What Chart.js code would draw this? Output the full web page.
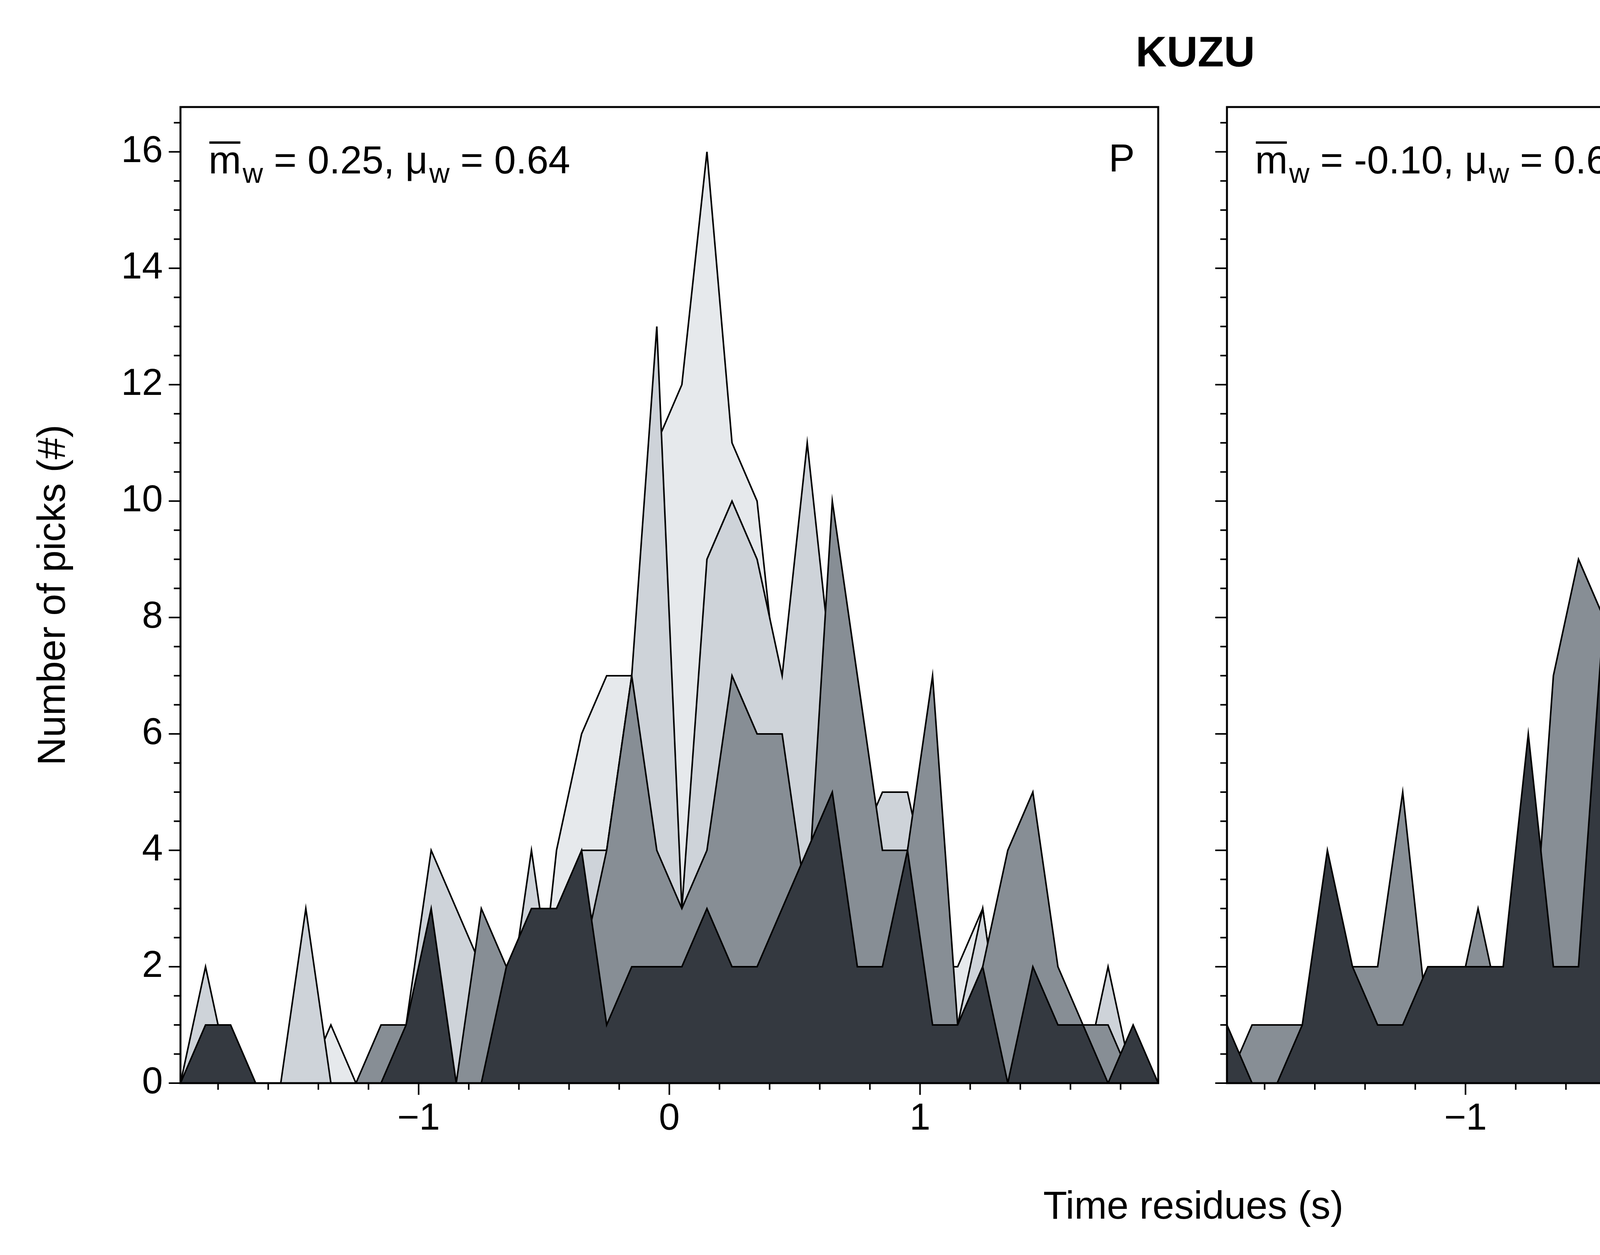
<!DOCTYPE html>
<html>
<head>
<meta charset="utf-8">
<script src="https://cdn.jsdelivr.net/npm/chart.js@4.4.1/dist/chart.umd.min.js"></script>
<style>
  html, body { margin: 0; padding: 0; background: #fff; overflow: hidden; }
  #wrap { position: relative; width: 6411px; height: 3213px; }
  .box { position: absolute; left: 0; top: 0; width: 6411px; height: 3213px; }
  canvas { display: block; }
</style>
</head>
<body>
<div id="wrap">
  <div class="box"><canvas id="chartP"></canvas></div>
  <div class="box"><canvas id="chartS"></canvas></div>
</div>
<script>
// bin centres (s)
var bins = [-1.95,-1.85,-1.75,-1.65,-1.55,-1.45,-1.35,-1.25,-1.15,-1.05,
            -0.95,-0.85,-0.75,-0.65,-0.55,-0.45,-0.35,-0.25,-0.15,-0.05,
             0.05, 0.15, 0.25, 0.35, 0.45, 0.55, 0.65, 0.75, 0.85, 0.95,
             1.05, 1.15, 1.25, 1.35, 1.45, 1.55, 1.65, 1.75, 1.85, 1.95];

// P phase, counts per weight class
var pW0 = [0,0,0,0,0,0,1,0,0,0, 0,0,0,0,0,4,6,7,7,11, 12,16,11,10,6,0,0,0,0,0, 2,2,3,0,0,0,0,0,0,0];
var pW1 = [0,2,0,0,0,3,0,0,0,1, 4,3,2,1,4,1,4,4,7,13, 3,9,10,9,7,11,7,4,5,5, 3,1,3,0,0,0,0,2,0,0];
var pW2 = [0,0,0,0,0,0,0,0,1,1, 1,0,3,2,2,3,2,4,7,4, 3,4,7,6,6,3,10,7,4,4, 7,1,2,4,5,2,1,1,0,0];
var pW3 = [0,1,1,0,0,0,0,0,0,1, 3,0,0,2,3,3,4,1,2,2, 2,3,2,2,3,4,5,2,2,4, 1,1,2,0,2,1,1,0,1,0];

// S phase
var sW0 = [0,0,0,0,0,0,0,0,0,0, 0,0,0,0,0,0,0,0,0,0, 0,0,0,0,0,0,0,0,0,0, 0,0,0,0,0,0,0,0,0,0];
var sW1 = [0,0,0,0,0,0,0,0,0,0, 0,0,0,0,0,0,0,0,0,6, 10,13,7,7,3,0,0,0,0,0, 0,0,0,0,0,0,0,0,0,0];
var sW2 = [0,1,1,1,2,2,2,5,1,1, 3,1,1,7,9,8,10,10,10,10, 8,7,8,5,6,6,3,1,4,3, 2,1,1,1,1,1,1,1,1,1];
var sW3 = [1,0,0,1,4,2,1,1,2,2, 2,2,6,2,2,8,2,7,2,3, 6,8,0,2,1,2,5,4,1,2, 1,1,1,2,1,1,0,0,1,1];

var weightLabels = ['0', '1', '2', '3', '4'];
var weightColors = ['#e6e9ec', '#ced3d9', '#878e95', '#343940', '#c62828'];

var xMajorTicks = [-1, 0, 1];
var xTickLabels = ['\u22121', '0', '1'];
var yMajorTicks = [0, 2, 4, 6, 8, 10, 12, 14, 16];

var FONT = '"Liberation Sans", Arial, sans-serif';

function makeSets(series) {
    return series.map(function(vals, k) {
        return {
            label: weightLabels[k],
            data: vals ? bins.map(function(b, i) { return {x: b, y: vals[i]}; }) : [],
            backgroundColor: weightColors[k],
            borderColor: '#000',
            borderWidth: 4,
            fill: 'origin',
            tension: 0,
            pointRadius: 0,
            order: 10 - k
        };
    });
}

function drawSub(ctx, x, y, base, sub, over) {
    ctx.font = '100px ' + FONT;
    ctx.fillText(base, x, y);
    var w = ctx.measureText(base).width;
    if (over) {
        ctx.fillRect(x + 2, y - 82, w - 4, 6);
    }
    ctx.font = '72px ' + FONT;
    ctx.fillText(sub, x + w + 4, y + 24);
    return x + w + 4 + ctx.measureText(sub).width;
}

var deco = {
    id: 'deco',
    afterDraw: function(chart, args, opts) {
        var ctx = chart.ctx, a = chart.chartArea;
        var xs = chart.scales.x, ys = chart.scales.y;
        ctx.save();
        ctx.strokeStyle = '#000';
        ctx.fillStyle = '#000';
        ctx.lineWidth = 5;
        ctx.strokeRect(a.left, a.top, a.right - a.left, a.bottom - a.top);
        ctx.lineWidth = 4;
        // x ticks
        for (var t = -1.8; t <= 1.81; t += 0.2) {
            var v = Math.round(t * 10) / 10;
            var major = xMajorTicks.indexOf(v) >= 0;
            var px = xs.getPixelForValue(v);
            ctx.beginPath();
            ctx.moveTo(px, a.bottom);
            ctx.lineTo(px, a.bottom + (major ? 30 : 17));
            ctx.stroke();
        }
        ctx.font = '96px ' + FONT;
        ctx.textAlign = 'center';
        ctx.textBaseline = 'top';
        xMajorTicks.forEach(function(v, i) {
            ctx.fillText(xTickLabels[i], xs.getPixelForValue(v), a.bottom + 45);
        });
        // y ticks
        for (var yv = 0; yv <= 16.5; yv += 0.5) {
            var maj = yMajorTicks.indexOf(yv) >= 0;
            var py = ys.getPixelForValue(yv);
            ctx.beginPath();
            ctx.moveTo(a.left, py);
            ctx.lineTo(a.left - (maj ? 30 : 17), py);
            ctx.stroke();
        }
        if (opts.yLabels) {
            ctx.textAlign = 'right';
            ctx.textBaseline = 'middle';
            yMajorTicks.forEach(function(v) {
                ctx.fillText(String(v), a.left - 45, ys.getPixelForValue(v));
            });
            ctx.save();
            ctx.translate(138, (a.top + a.bottom) / 2);
            ctx.rotate(-Math.PI / 2);
            ctx.textAlign = 'center';
            ctx.font = '100px ' + FONT;
            ctx.fillText('Number of picks (#)', 0, 0);
            ctx.restore();
        }
        // annotation
        ctx.textAlign = 'left';
        ctx.textBaseline = 'alphabetic';
        var x0 = a.left + 72, y0 = a.top + 170;
        var x1 = drawSub(ctx, x0, y0, 'm', 'w', true);
        ctx.font = '100px ' + FONT;
        var s1 = ' = ' + opts.mean + ', ';
        ctx.fillText(s1, x1, y0);
        x1 += ctx.measureText(s1).width;
        x1 = drawSub(ctx, x1, y0, '\u03bc', 'w', false);
        ctx.font = '100px ' + FONT;
        ctx.fillText(' = ' + opts.mu, x1, y0);
        ctx.textAlign = 'right';
        ctx.fillText(opts.phase, a.right - 60, y0 - 5);

        if (opts.extras) {
            ctx.textAlign = 'center';
            ctx.font = 'bold 110px ' + FONT;
            ctx.fillText('KUZU', 3060, 170);
            ctx.font = '100px ' + FONT;
            ctx.fillText('Time residues (s)', 3055, 3120);
            // legend box
            ctx.lineWidth = 5;
            ctx.strokeRect(5775, 932, 577, 1166);
            ctx.textAlign = 'left';
            ctx.textBaseline = 'middle';
            ctx.fillText('Weights', 5840, 1063);
            weightLabels.forEach(function(lab, k) {
                var cy = 1240 + k * 182;
                ctx.fillStyle = weightColors[k];
                ctx.fillRect(5873, cy - 45, 250, 90);
                ctx.strokeStyle = '#000';
                ctx.lineWidth = 4;
                ctx.strokeRect(5873, cy - 45, 250, 90);
                ctx.fillStyle = '#000';
                ctx.fillText(lab, 6210, cy + 4);
            });
        }
        ctx.restore();
    }
};

function makeChart(id, series, pad, opts) {
    return new Chart(document.getElementById(id), {
        type: 'line',
        data: { datasets: makeSets(series) },
        options: {
            responsive: true,
            maintainAspectRatio: false,
            devicePixelRatio: 1,
            animation: false,
            events: [],
            layout: { padding: pad },
            scales: {
                x: { type: 'linear', min: -1.95, max: 1.95, display: false },
                y: { min: 0, max: 16.77, display: false }
            },
            plugins: {
                legend: { display: false },
                tooltip: { enabled: false },
                deco: opts
            }
        },
        plugins: [deco]
    });
}

makeChart('chartP', [pW0, pW1, pW2, pW3, null],
    { left: 462, right: 6411 - 2965, top: 274, bottom: 3213 - 2773 },
    { mean: '0.25', mu: '0.64', phase: 'P', yLabels: true, extras: false });
makeChart('chartS', [sW0, sW1, sW2, sW3, null],
    { left: 3141, right: 6411 - 5648, top: 274, bottom: 3213 - 2773 },
    { mean: '-0.10', mu: '0.65', phase: 'S', yLabels: false, extras: true });
</script>
</body>
</html>
